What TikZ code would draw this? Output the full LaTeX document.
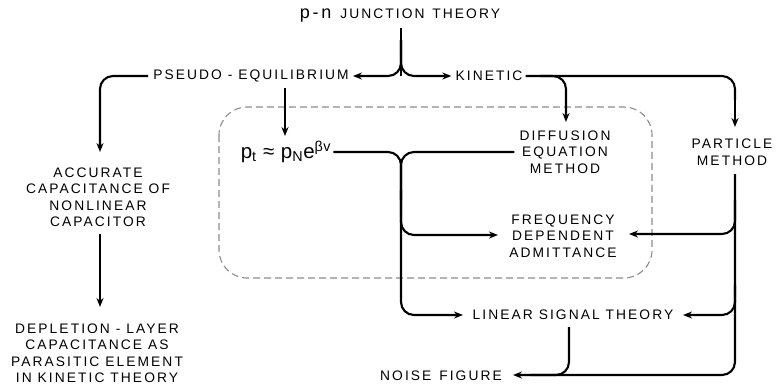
\documentclass[tikz,border=0pt]{standalone}
\usepackage{fontspec}
\setmainfont{Liberation Sans}[LetterSpace=15]
\newfontfamily\formfont{Liberation Sans}[LetterSpace=4]
\usetikzlibrary{arrows.meta}
\begin{document}
\begin{tikzpicture}[x=1pt,y=-1pt,
  lbl/.style={inner sep=1pt,align=center,font=\fontsize{13.8}{16.5}\selectfont},
  conn/.style={line width=2.1pt,rounded corners=13pt},
  arr/.style={conn,-{Stealth[length=9pt,width=7pt]}},
  dbox/.style={draw=black!45,line width=1.1pt,dash pattern=on 7pt off 4pt,rounded corners=28pt}]
\useasboundingbox (0,0) rectangle (776,384);
\draw[dbox] (219,107) rectangle (652,278);
% nodes
\node[lbl] (pn) at (400,16) {{\fontsize{18}{18}\selectfont p-n}\hspace{3pt} JUNCTION\hspace{2pt} THEORY};
\node[lbl] (pseudo) at (251,76) {PSEUDO - EQUILIBRIUM};
\node[lbl] (kinetic) at (489,76) {KINETIC};
\node[lbl] (accurate) at (98,197) {ACCURATE\\CAPACITANCE OF\\NONLINEAR\\CAPACITOR};
\node[lbl] (depletion) at (97,353) {DEPLETION - LAYER\\CAPACITANCE AS\\PARASITIC ELEMENT\\IN KINETIC THEORY};
\node[inner sep=1pt,font=\formfont\fontsize{20.5}{20.5}\selectfont] (form) at (286,152) {p\textsubscript{t} ≈ p\textsubscript{N}e\textsuperscript{βv}};
\node[lbl] (diff) at (565,152) {DIFFUSION\\EQUATION\\METHOD};
\node[lbl] (part) at (732,152) {PARTICLE\\METHOD};
\node[lbl] (freq) at (563,236) {FREQUENCY\\DEPENDENT\\ADMITTANCE};
\node[lbl] (lin) at (573,315) {LINEAR SIGNAL THEORY};
\node[lbl] (noise) at (441,376) {NOISE\hspace{2pt} FIGURE};
% junction coordinates
\coordinate (j1) at (401,76);
\coordinate (j2) at (401,152);
\coordinate (j3) at (566,76);
\coordinate (j4) at (735,76);
\coordinate (j5) at (401,315);
\coordinate (j6) at (735,375);
\coordinate (j7) at (569,375);
% connectors
\draw[conn] (j1 |- pn.south) ++(0,4) -- (j1);
\draw[arr] (401,40) -- (j1) -- ([xshift=3pt]pseudo.east);
\draw[arr] (401,40) -- (j1) -- ([xshift=-3pt]kinetic.west);
\draw[arr] ([xshift=-4pt]pseudo.west) -- (100,76) -- (100,152);
\draw[arr] (accurate.south -| 100,0) ++(0,6) -- (100,307);
\draw[arr] (285,88) -- (285,136);
\draw[arr] ([xshift=1pt]form.east |- j2) -- (j2) -- (j5) -- (463,315);
\draw[conn] ([xshift=-4pt]diff.west |- j2) -- (j2) -- (401,200);
\draw[arr] (401,190) -- (401,235) -- (498,235);
\draw[conn] ([xshift=2pt]kinetic.east) -- (j4) -- (735,100);
\draw[arr] (735,90) -- (735,127);
\draw[arr] (540,76) -- (j3) -- (566,122);
\draw[arr] (735,174) -- (j6) -- (513,375);
\draw[arr] (735,200) -- (735,234) -- (629,234);
\draw[arr] (735,285) -- (735,315) -- (683,315);
\draw[conn] (569,327) -- (j7) -- (530,375);
\end{tikzpicture}
\end{document}
